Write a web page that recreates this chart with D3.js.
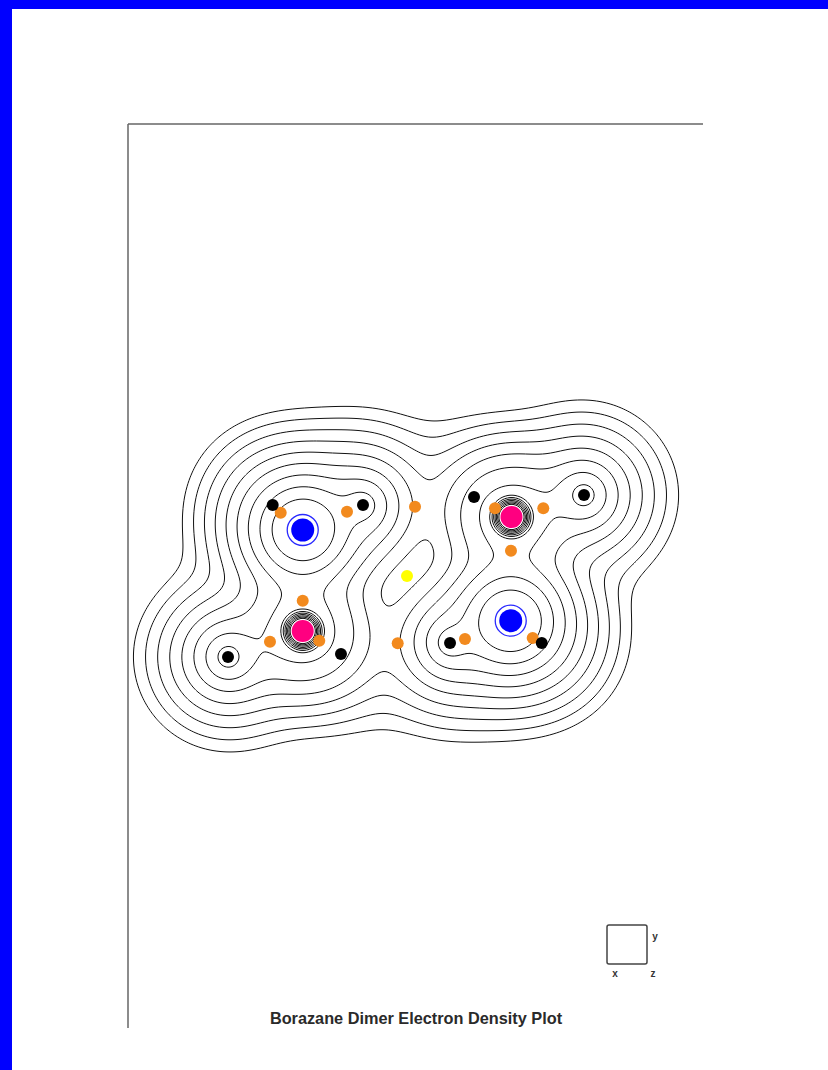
<!DOCTYPE html>
<html>
<head>
<meta charset="utf-8">
<script src="https://cdn.jsdelivr.net/npm/d3@7"></script>
<style>
  html, body { margin: 0; padding: 0; background: #fff; }
  svg { display: block; }
</style>
</head>
<body>
<script>
// Borazane dimer (H3B-NH3)2 — nuclei projected on the plot plane (Å); atomZ is the height above the plane
const atomElement = ["N", "B", "N", "B", "H", "H", "H", "H", "H", "H", "H", "H"];
const atomX = [-1.682, -1.682, 1.673, 1.685, -2.166, -0.710, -2.887, -1.065, 1.081, 2.855, 0.694, 2.173];
const atomY = [0.742, -0.887, -0.721, 0.952, 1.145, 1.145, -1.306, -1.258, 1.274, 1.306, -1.081, -1.081];
const atomZ = [0, 0, 0, 0, 0.80, 0, 0, 0.97, 0.99, 0, 0, 0.81];

// Bond critical points (Å)
const bcpX = [-2.037, -0.968, 0.129, -1.682, -2.210, -1.415, -0.150, 1.677, 1.419, 2.198, 0.935, 2.027];
const bcpY = [1.021, 1.037, 1.118, -0.398, -1.060, -1.044, -1.085, 0.408, 1.092, 1.092, -1.016, -1.000];

// Ring critical point (Å)
const rcpX = [0.0];
const rcpY = [0.0];

// Atomic density model: amp * exp(-lin*d - quad*d^2) + core * exp(-coreDecay*d)
const elements = ["H", "B", "N"];
const valenceAmp = [0.28, 0.12, 1.55];
const valenceLin = [3.55, 0.0, 2.98];
const valenceQuad = [0.0, 2.0, 0.62];
const coreAmp = [0, 12000, 0];
const coreDecay = [1, 35, 1];

// Contour levels (a.u.)
const contourLevels = [0.00125, 0.0025, 0.005, 0.01, 0.02, 0.04, 0.08, 0.16, 0.32, 0.64, 1.28, 2.56, 5.12, 10.24];

const title = "Borazane Dimer Electron Density Plot";
const axisLabels = ["x", "z", "y"];

const W = 828, H = 1070;
const svg = d3.select("body").append("svg").attr("width", W).attr("height", H);

svg.append("rect").attr("width", W).attr("height", H).attr("fill", "#fff");
// blue page border
svg.append("rect").attr("x", 0).attr("y", 0).attr("width", W).attr("height", 9).attr("fill", "#0000ff");
svg.append("rect").attr("x", 0).attr("y", 0).attr("width", 12).attr("height", H).attr("fill", "#0000ff");

const x = d3.scaleLinear().domain([-4.5, 4.774]).range([128, 703]);
const y = d3.scaleLinear().domain([-7.29, 7.29]).range([1028, 124]);

// frame
svg.append("line").attr("x1", 128).attr("y1", 124).attr("x2", 703).attr("y2", 124)
  .attr("stroke", "#666").attr("stroke-width", 1.5);
svg.append("line").attr("x1", 128).attr("y1", 124).attr("x2", 128).attr("y2", 1028)
  .attr("stroke", "#666").attr("stroke-width", 1.5);

// density grid in screen space, evaluated in Å
const gx0 = 129, gx1 = 702, gy0 = 300, gy1 = 860, step = 1;
const nx = Math.floor((gx1 - gx0) / step) + 1;
const ny = Math.floor((gy1 - gy0) / step) + 1;
const values = new Float64Array(nx * ny);
const eIdx = atomElement.map(e => elements.indexOf(e));
for (let j = 0; j < ny; j++) {
  const yy = y.invert(gy0 + j * step);
  for (let i = 0; i < nx; i++) {
    const xx = x.invert(gx0 + i * step);
    let v = 0;
    for (let a = 0; a < atomX.length; a++) {
      const dx = xx - atomX[a], dy = yy - atomY[a], dz = atomZ[a];
      const d = Math.sqrt(dx * dx + dy * dy + dz * dz);
      const e = eIdx[a];
      v += valenceAmp[e] * Math.exp(-valenceLin[e] * d - valenceQuad[e] * d * d);
      if (coreAmp[e] > 0) v += coreAmp[e] * Math.exp(-coreDecay[e] * d);
    }
    values[j * nx + i] = v;
  }
}

const contours = d3.contours().size([nx, ny]).thresholds(contourLevels)(values);
const toScreen = d3.geoTransform({
  point(px, py) { this.stream.point(gx0 + (px - 0.5) * step, gy0 + (py - 0.5) * step); }
});
const path = d3.geoPath(toScreen);

svg.append("g").selectAll("path").data(contours).join("path")
  .attr("d", path).attr("fill", "none").attr("stroke", "#111").attr("stroke-width", 1);

// nuclei
const atoms = atomElement.map((e, i) => ({ e, x: atomX[i], y: atomY[i] }));
const gAtoms = svg.append("g");
atoms.filter(a => a.e === "N").forEach(a => {
  gAtoms.append("circle").attr("cx", x(a.x)).attr("cy", y(a.y)).attr("r", 20).attr("fill", "#fff");
  gAtoms.append("circle").attr("cx", x(a.x)).attr("cy", y(a.y)).attr("r", 15.5)
    .attr("fill", "none").attr("stroke", "#2a2aff").attr("stroke-width", 1.3);
  gAtoms.append("circle").attr("cx", x(a.x)).attr("cy", y(a.y)).attr("r", 11.5).attr("fill", "#0000ff");
});
atoms.filter(a => a.e === "B").forEach(a => {
  gAtoms.append("circle").attr("cx", x(a.x)).attr("cy", y(a.y)).attr("r", 11).attr("fill", "#ff0080");
});

// bond critical points
svg.append("g").selectAll("circle").data(bcpX.map((v, i) => [v, bcpY[i]])).join("circle")
  .attr("cx", d => x(d[0])).attr("cy", d => y(d[1])).attr("r", 6).attr("fill", "#f28a1e");

// hydrogens
svg.append("g").selectAll("circle").data(atoms.filter(a => a.e === "H")).join("circle")
  .attr("cx", d => x(d.x)).attr("cy", d => y(d.y)).attr("r", 6).attr("fill", "#000");

// ring critical point
svg.append("g").selectAll("circle").data(rcpX.map((v, i) => [v, rcpY[i]])).join("circle")
  .attr("cx", d => x(d[0])).attr("cy", d => y(d[1])).attr("r", 6).attr("fill", "#ffff00");

// orientation glyph
svg.append("rect").attr("x", 607).attr("y", 925).attr("width", 40).attr("height", 39).attr("rx", 2)
  .attr("fill", "none").attr("stroke", "#444").attr("stroke-width", 1.5);
const lab = svg.append("g").attr("font-family", "Liberation Sans, Arial, sans-serif")
  .attr("font-size", 10).attr("font-weight", "bold").attr("fill", "#333").attr("text-anchor", "middle");
lab.append("text").attr("x", 615).attr("y", 977).text(axisLabels[0]);
lab.append("text").attr("x", 653).attr("y", 977).text(axisLabels[1]);
lab.append("text").attr("x", 655).attr("y", 940).text(axisLabels[2]);

svg.append("text").attr("x", 416).attr("y", 1024).attr("text-anchor", "middle")
  .attr("font-family", "Liberation Sans, Arial, sans-serif").attr("font-size", 16.3).attr("font-weight", "bold")
  .attr("fill", "#2a2a2a").text(title);
</script>
</body>
</html>
